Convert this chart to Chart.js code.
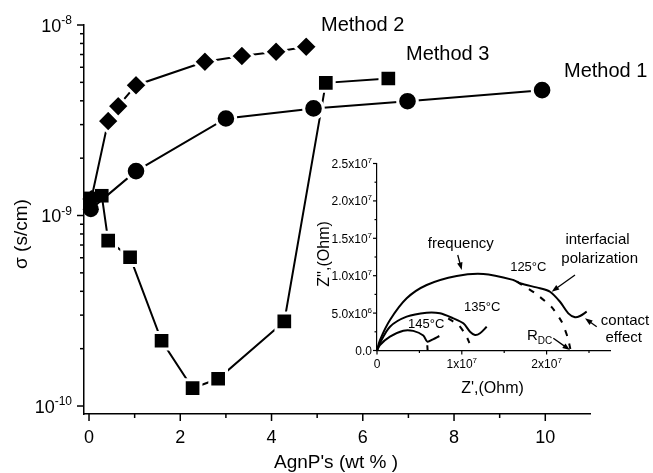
<!DOCTYPE html>
<html lang="en">
<head>
    <meta charset="UTF-8">
    <title>Conductivity vs AgnP content</title>
    <script src="https://cdn.jsdelivr.net/npm/chart.js"></script>
    <style>
        * { margin: 0; padding: 0; box-sizing: border-box; }
        body { background: #fff; width: 653px; height: 473px; position: relative; overflow: hidden; }
        #main { position: absolute; left: 0; top: 0; }
        /* Nyquist inset sits over the lower right of the main plot */
        #inset { position: absolute; left: 300px; top: 150px; }
    </style>
</head>
<body>
    <canvas id="main" width="653" height="473"></canvas>
    <canvas id="inset" width="353" height="250"></canvas>

    <script>
        // main plot: conductivity (s/cm) against AgnP loading (wt %)
        const method1X = [0.04, 1.03, 3.0, 4.92, 6.98, 9.93];
        const method1Sigma = [1.08e-9, 1.71e-9, 3.23e-9, 3.65e-9, 3.98e-9, 4.55e-9];
        const method2X = [0.05, 0.42, 0.64, 1.03, 2.54, 3.35, 4.10, 4.76];
        const method2Sigma = [1.22e-9, 3.13e-9, 3.75e-9, 4.83e-9, 6.41e-9, 6.87e-9, 7.24e-9, 7.69e-9];
        const method3X = [0.02, 0.28, 0.42, 0.90, 1.59, 2.27, 2.83, 4.28, 5.19, 6.56];
        const method3Sigma = [1.23e-9, 1.27e-9, 7.38e-10, 6.04e-10, 2.2e-10, 1.24e-10, 1.39e-10, 2.78e-10, 4.97e-9, 5.24e-9];

        const xTicks = [0, 2, 4, 6, 8, 10];
        const xMinor = [1, 3, 5, 7, 9];
        const yDecades = [1e-10, 1e-9, 1e-8];
        const yDecadeExp = ['-10', '-9', '-8'];

        // inset: Z'' vs Z' at three temperatures (Ohm)
        const z125Re = [0, 0.035e7, 0.153e7, 0.35e7, 0.586e7, 0.94e7, 1.254e7, 1.607e7, 1.686e7, 1.922e7, 2.04e7, 2.158e7, 2.256e7, 2.335e7, 2.394e7, 2.473e7];
        const z125Im = [0, 0.14e7, 0.408e7, 0.698e7, 0.876e7, 0.996e7, 1.023e7, 0.943e7, 0.898e7, 0.832e7, 0.786e7, 0.652e7, 0.497e7, 0.444e7, 0.461e7, 0.519e7];
        const z125FitRe = [1.65e7, 1.86e7, 2.06e7, 2.18e7, 2.25e7, 2.28e7];
        const z125FitIm = [0.92e7, 0.77e7, 0.58e7, 0.38e7, 0.17e7, 0.02e7];
        const z135Re = [0, 0.035e7, 0.153e7, 0.35e7, 0.586e7, 0.743e7, 0.9e7, 1.018e7, 1.097e7, 1.156e7, 1.215e7, 1.294e7];
        const z135Im = [0, 0.1e7, 0.318e7, 0.452e7, 0.505e7, 0.497e7, 0.43e7, 0.364e7, 0.251e7, 0.207e7, 0.23e7, 0.318e7];
        const z135FitRe = [0.84e7, 0.97e7, 1.05e7, 1.09e7];
        const z135FitIm = [0.43e7, 0.33e7, 0.2e7, 0.1e7];
        const z145Re = [0, 0.035e7, 0.153e7, 0.31e7, 0.428e7, 0.546e7, 0.593e7, 0.66e7, 0.735e7];
        const z145Im = [0, 0.074e7, 0.185e7, 0.265e7, 0.262e7, 0.2e7, 0.118e7, 0.15e7, 0.194e7];
        const z145FitRe = [0.593e7, 0.597e7];
        const z145FitIm = [0.07e7, 0];

        const insetYTicks = [0, 5e6, 1e7, 1.5e7, 2e7, 2.5e7];
        const insetYBase = ['0.0', '5.0x10', '1.0x10', '1.5x10', '2.0x10', '2.5x10'];
        const insetYExp = ['', '6', '7', '7', '7', '7'];
        const insetXTicks = [0, 1e7, 2e7];
        const insetXBase = ['0', '1x10', '2x10'];
        const insetXExp = ['', '7', '7'];

        const FONT = '"Liberation Sans", Arial, sans-serif';

        function pts(xs, ys) {
            return xs.map((x, i) => ({ x: x, y: ys[i] }));
        }

        // text with a raised exponent; align is left / center / right
        function supText(ctx, base, sup, x, y, size, supSize, rise, align) {
            ctx.font = size + 'px ' + FONT;
            const wb = ctx.measureText(base).width;
            ctx.font = supSize + 'px ' + FONT;
            const ws = sup ? ctx.measureText(sup).width : 0;
            let left = x;
            if (align === 'right') left = x - wb - ws;
            if (align === 'center') left = x - (wb + ws) / 2;
            ctx.textAlign = 'left';
            ctx.font = size + 'px ' + FONT;
            ctx.fillText(base, left, y);
            if (sup) {
                ctx.font = supSize + 'px ' + FONT;
                ctx.fillText(sup, left + wb, y - rise);
            }
        }

        function arrow(ctx, x1, y1, x2, y2) {
            const ang = Math.atan2(y2 - y1, x2 - x1);
            ctx.beginPath();
            ctx.moveTo(x1, y1);
            ctx.lineTo(x2 - 5 * Math.cos(ang), y2 - 5 * Math.sin(ang));
            ctx.stroke();
            ctx.beginPath();
            ctx.moveTo(x2, y2);
            ctx.lineTo(x2 - 8 * Math.cos(ang - 0.35), y2 - 8 * Math.sin(ang - 0.35));
            ctx.lineTo(x2 - 8 * Math.cos(ang + 0.35), y2 - 8 * Math.sin(ang + 0.35));
            ctx.closePath();
            ctx.fill();
        }

        // ---------- main chart ----------
        const mainAxes = {
            id: 'mainAxes',
            afterDraw(chart) {
                const { ctx, scales: { x, y }, chartArea: a } = chart;
                ctx.save();
                ctx.strokeStyle = '#000';
                ctx.fillStyle = '#000';
                ctx.lineWidth = 1.5;

                // log ticks: decades long, 2..9 short
                yDecades.forEach((d, i) => {
                    for (let k = 1; k < 10; k++) {
                        const v = k * d;
                        if (v < y.min * 0.999 || v > y.max * 1.001) continue;
                        const py = y.getPixelForValue(v);
                        const len = k === 1 ? 7 : 4;
                        ctx.beginPath();
                        ctx.moveTo(a.left - len, py);
                        ctx.lineTo(a.left, py);
                        ctx.stroke();
                    }
                    supText(ctx, '10', yDecadeExp[i], a.left - 12, y.getPixelForValue(d) + 6.5, 18, 12, 7.5, 'right');
                });

                xTicks.forEach(t => {
                    const px = x.getPixelForValue(t);
                    ctx.beginPath();
                    ctx.moveTo(px, a.bottom);
                    ctx.lineTo(px, a.bottom + 7);
                    ctx.stroke();
                    ctx.font = '18px ' + FONT;
                    ctx.textAlign = 'center';
                    ctx.fillText(String(t), px, a.bottom + 29);
                });
                xMinor.forEach(t => {
                    const px = x.getPixelForValue(t);
                    ctx.beginPath();
                    ctx.moveTo(px, a.bottom);
                    ctx.lineTo(px, a.bottom + 4);
                    ctx.stroke();
                });

                // axis titles
                ctx.font = '19px ' + FONT;
                ctx.textAlign = 'center';
                ctx.fillText("AgnP's (wt % )", 336, 468);
                ctx.save();
                ctx.translate(27, 234);
                ctx.rotate(-Math.PI / 2);
                ctx.fillText('\u03c3 (s/cm)', 0, 0);
                ctx.restore();

                // series names
                ctx.font = '20px ' + FONT;
                ctx.textAlign = 'left';
                ctx.fillText('Method 2', 321, 31);
                ctx.fillText('Method 3', 406, 60);
                ctx.fillText('Method 1', 564, 77);
                ctx.restore();
            }
        };

        // markers near x = 0 overlap, so they get no white ring there
        function ringed(xs, big, small) {
            return {
                pointRadius: c => (xs[c.dataIndex] < 0.35 ? small : big),
                pointBorderWidth: c => (xs[c.dataIndex] < 0.35 ? 0 : 3)
            };
        }

        function series(label, xs, ys, style, big, small) {
            return Object.assign({
                label: label,
                data: pts(xs, ys),
                borderColor: '#000',
                borderWidth: 2,
                pointStyle: style,
                pointBackgroundColor: '#000',
                pointBorderColor: '#fff',
                tension: 0,
                clip: false
            }, ringed(xs, big, small));
        }

        new Chart(document.getElementById('main'), {
            type: 'line',
            data: {
                datasets: [
                    series('Method 1', method1X, method1Sigma, 'circle', 9.8, 8),
                    series('Method 2', method2X, method2Sigma, 'rectRot', 11.3, 9),
                    series('Method 3', method3X, method3Sigma, 'rect', 11.8, 9.6)
                ]
            },
            options: {
                responsive: false,
                animation: false,
                layout: { padding: { top: 25, right: 63, left: 0, bottom: 0 } },
                plugins: { legend: { display: false }, tooltip: { enabled: false } },
                scales: {
                    x: {
                        type: 'linear',
                        min: -0.11,
                        max: 10.98,
                        grid: { display: false },
                        ticks: { display: false },
                        border: { color: '#000', width: 1.5 },
                        afterFit: s => { s.height = 59; }
                    },
                    y: {
                        type: 'logarithmic',
                        min: 9.08e-11,
                        max: 1e-8,
                        grid: { display: false },
                        ticks: { display: false },
                        border: { color: '#000', width: 1.5 },
                        afterFit: s => { s.width = 84; }
                    }
                }
            },
            plugins: [mainAxes]
        });

        // ---------- inset ----------
        const insetNotes = [
            { text: 'frequency', x: 0.988e7, y: 1.366e7, size: 15 },
            { text: '125\u00b0C', x: 1.784e7, y: 1.067e7, size: 13 },
            { text: 'interfacial', x: 2.60e7, y: 1.424e7, size: 15 },
            { text: 'polarization', x: 2.626e7, y: 1.166e7, size: 15 },
            { text: '135\u00b0C', x: 1.24e7, y: 0.532e7, size: 13 },
            { text: '145\u00b0C', x: 0.58e7, y: 0.297e7, size: 13 },
            { text: 'contact', x: 2.925e7, y: 0.341e7, size: 15 },
            { text: 'effect', x: 2.909e7, y: 0.118e7, size: 15 }
        ];
        const insetArrows = [
            [0.952e7, 1.277e7, 0.999e7, 1.076e7],
            [2.335e7, 1.009e7, 2.06e7, 0.786e7],
            [2.591e7, 0.318e7, 2.453e7, 0.43e7],
            [2.079e7, 0.163e7, 2.276e7, 0.007e7]
        ];

        const insetAxes = {
            id: 'insetAxes',
            afterDraw(chart) {
                const { ctx, scales: { x, y }, chartArea: a } = chart;
                ctx.save();
                ctx.strokeStyle = '#000';
                ctx.fillStyle = '#000';
                ctx.lineWidth = 1.2;

                insetYTicks.forEach((t, i) => {
                    const py = y.getPixelForValue(t);
                    ctx.beginPath();
                    ctx.moveTo(a.left - 4, py);
                    ctx.lineTo(a.left, py);
                    ctx.stroke();
                    if (i < insetYTicks.length - 1) {
                        const pm = y.getPixelForValue(t + 2.5e6);
                        ctx.beginPath();
                        ctx.moveTo(a.left - 2.5, pm);
                        ctx.lineTo(a.left, pm);
                        ctx.stroke();
                    }
                    supText(ctx, insetYBase[i], insetYExp[i], a.left - 5, py + 4.5, 12, 8, 5, 'right');
                });
                insetXTicks.forEach((t, i) => {
                    const px = x.getPixelForValue(t);
                    ctx.beginPath();
                    ctx.moveTo(px, a.bottom);
                    ctx.lineTo(px, a.bottom + 4);
                    ctx.stroke();
                    const pm = x.getPixelForValue(t + 0.5e7);
                    ctx.beginPath();
                    ctx.moveTo(pm, a.bottom);
                    ctx.lineTo(pm, a.bottom + 2.5);
                    ctx.stroke();
                    supText(ctx, insetXBase[i], insetXExp[i], px, a.bottom + 17.5, 12, 8, 5, 'center');
                });

                ctx.font = '16px ' + FONT;
                ctx.textAlign = 'center';
                ctx.fillText("Z',(Ohm)", 192.5, 243);
                ctx.save();
                ctx.translate(29, 104);
                ctx.rotate(-Math.PI / 2);
                ctx.fillText("Z'',(Ohm)", 0, 0);
                ctx.restore();

                insetNotes.forEach(n => {
                    ctx.font = n.size + 'px ' + FONT;
                    ctx.textAlign = 'center';
                    ctx.fillText(n.text, x.getPixelForValue(n.x), y.getPixelForValue(n.y));
                });
                // R_DC with subscript
                const rx = x.getPixelForValue(1.769e7);
                const ry = y.getPixelForValue(0.14e7);
                ctx.textAlign = 'left';
                ctx.font = '15px ' + FONT;
                ctx.fillText('R', rx, ry);
                const rw = ctx.measureText('R').width;
                ctx.font = '10px ' + FONT;
                ctx.fillText('DC', rx + rw, ry + 3.5);

                ctx.lineWidth = 1.3;
                insetArrows.forEach(([x1, y1, x2, y2]) => {
                    arrow(ctx, x.getPixelForValue(x1), y.getPixelForValue(y1),
                        x.getPixelForValue(x2), y.getPixelForValue(y2));
                });
                ctx.restore();
            }
        };

        function arc(xs, ys, dashed) {
            return {
                data: pts(xs, ys),
                borderColor: '#000',
                borderWidth: 2,
                borderDash: dashed ? [6, 8] : [],
                pointRadius: 0,
                tension: dashed ? 0.2 : 0.3,
                clip: false
            };
        }

        new Chart(document.getElementById('inset'), {
            type: 'line',
            data: {
                datasets: [
                    arc(z125Re, z125Im, false),
                    arc(z125FitRe, z125FitIm, true),
                    arc(z135Re, z135Im, false),
                    arc(z135FitRe, z135FitIm, true),
                    arc(z145Re, z145Im, false),
                    arc(z145FitRe, z145FitIm, false)
                ]
            },
            options: {
                responsive: false,
                animation: false,
                layout: { padding: { top: 13.5, right: 43, left: 0, bottom: 0 } },
                plugins: { legend: { display: false }, tooltip: { enabled: false } },
                scales: {
                    x: {
                        type: 'linear',
                        min: 0,
                        max: 2.7476e7,
                        grid: { display: false },
                        ticks: { display: false },
                        border: { color: '#000', width: 1.2 },
                        afterFit: s => { s.height = 49.5; }
                    },
                    y: {
                        type: 'linear',
                        min: 0,
                        max: 2.5e7,
                        grid: { display: false },
                        ticks: { display: false },
                        border: { color: '#000', width: 1.2 },
                        afterFit: s => { s.width = 77; }
                    }
                }
            },
            plugins: [insetAxes]
        });
    </script>
</body>
</html>
